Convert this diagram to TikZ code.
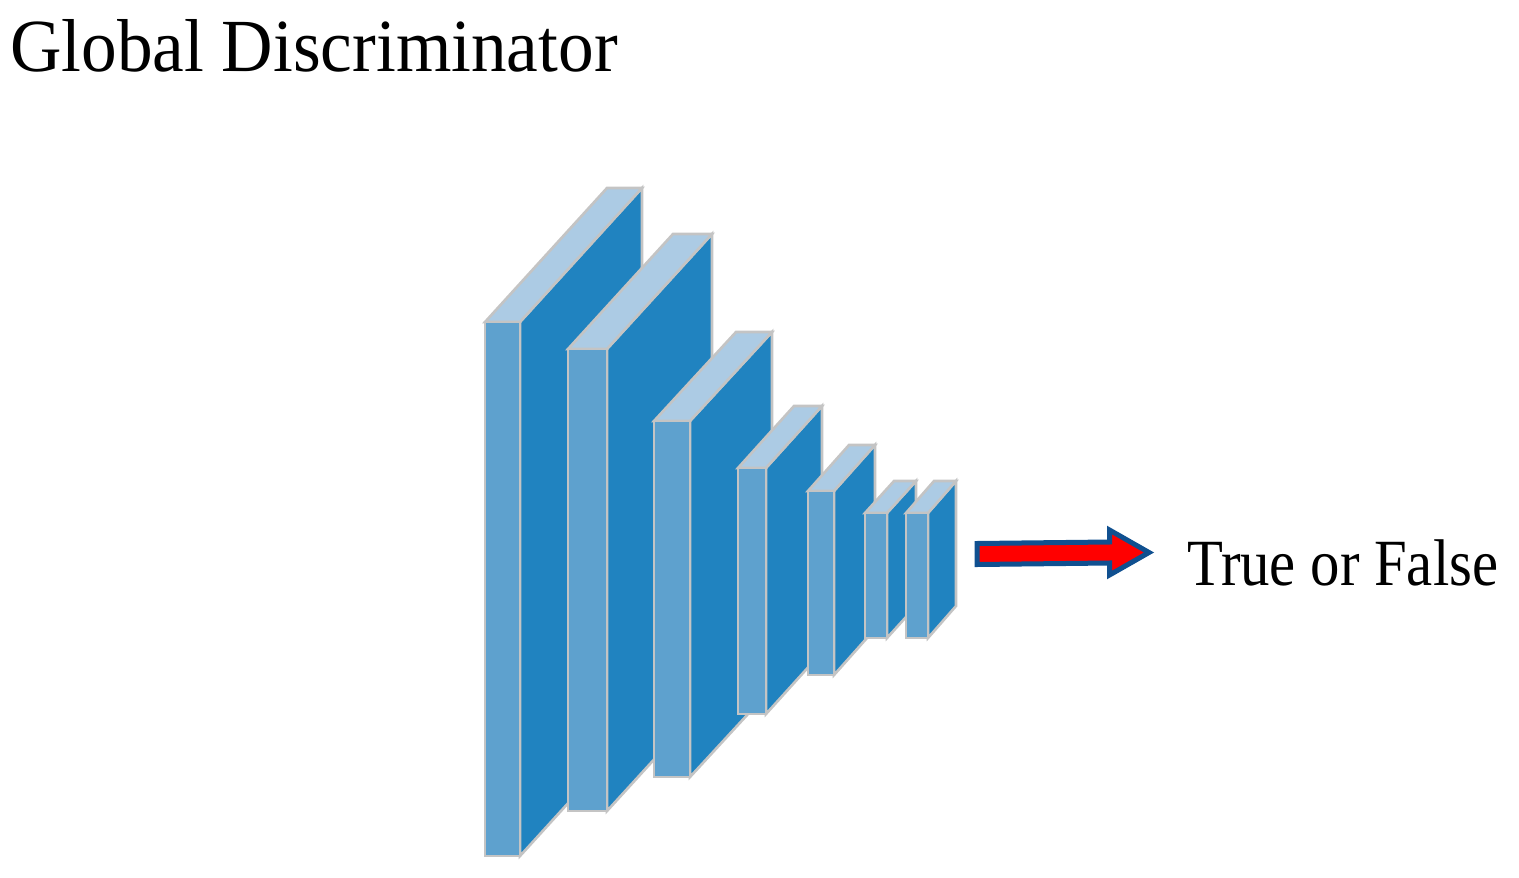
\documentclass[tikz,border=0pt]{standalone}
\usepackage{fontspec}
\setmainfont{Liberation Serif}
\definecolor{frontc}{HTML}{5EA1CE}
\definecolor{sidec}{HTML}{2083C0}
\definecolor{topc}{HTML}{ACCBE4}
\definecolor{edgec}{HTML}{C4C4C4}
\definecolor{arrowedge}{HTML}{105090}
\tikzset{
  face/.style={draw=edgec, line width=2.6pt, line join=miter},
  titletext/.style={font=\fontsize{75}{80}\selectfont, inner sep=0pt, anchor=base west},
  labeltext/.style={font=\fontsize{66}{70}\selectfont, inner sep=0pt, anchor=base west},
}
% \cnnblock{x0}{x1}{ytop}{ybottom}{dx}{dy}
\newcommand\cnnblock[6]{%
  \path[face, fill=sidec] (#2,#3) -- ++(#5,#6) -- (#2+#5,#4+#6) -- (#2,#4) -- cycle;
  \path[face, fill=topc] (#1,#3) -- ++(#5,#6) -- (#2+#5,#3+#6) -- (#2,#3) -- cycle;
  \path[face, fill=frontc] (#1,#3) rectangle (#2,#4);
}
\begin{document}
\begin{tikzpicture}[x=1pt, y=-1pt]
\useasboundingbox (0,0) rectangle (1519,878);
\cnnblock{485}{520}{322}{856}{122}{-134}
\cnnblock{568}{607}{349}{811}{105}{-115}
\cnnblock{654}{690}{421}{777}{82}{-89}
\cnnblock{738}{766}{468}{714}{56}{-62}
\cnnblock{808}{834}{491}{675}{41}{-46}
\cnnblock{865}{887}{513}{638}{29}{-32}
\cnnblock{906}{928}{513}{638}{28}{-32}
% arrow
\coordinate (a1) at (977,543.5);
\coordinate (a2) at (1109.5,542);
\coordinate (a3) at (1109.5,530);
\coordinate (tip) at (1149,552.5);
\coordinate (a4) at (1109.5,575);
\coordinate (a5) at (1109.5,563);
\coordinate (a6) at (977,564.5);
\draw[draw=arrowedge, fill=red, line width=5pt, line join=miter] (a1) -- (a2) -- (a3) -- (tip) -- (a4) -- (a5) -- (a6) -- cycle;
\node[titletext] (title) at (10,71) {\scalebox{0.95}[1]{Global Discriminator}};
\node[labeltext] (out) at (1187,585) {\scalebox{0.89}[1]{True or False}};
\end{tikzpicture}
\end{document}
